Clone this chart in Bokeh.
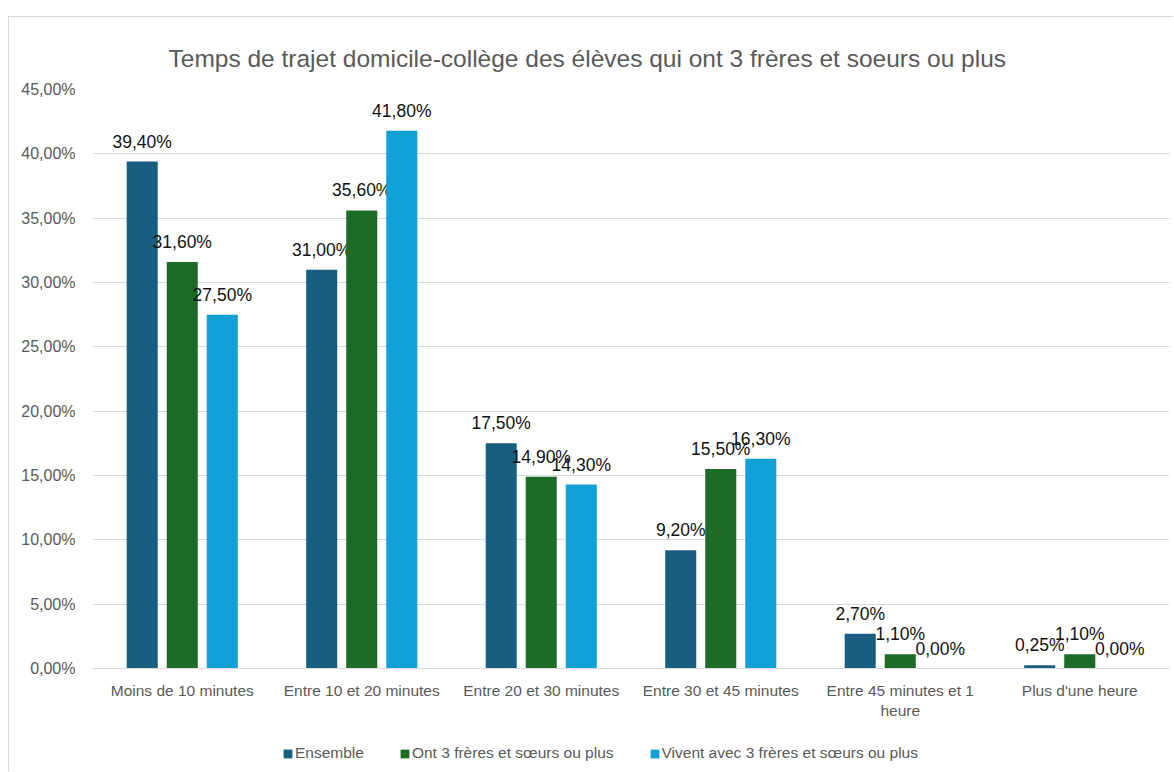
from bokeh.plotting import figure
from bokeh.layouts import column
from bokeh.models import (ColumnDataSource, FactorRange, Range1d, FixedTicker, Legend,
                          LegendItem, CustomJSTickFormatter)
from bokeh.transform import dodge
from bokeh.core.properties import value
from bokeh.embed import file_html
from bokeh.resources import INLINE

# ---- data ----
categories = ["Moins de 10 minutes", "Entre 10 et 20 minutes", "Entre 20 et 30 minutes",
              "Entre 30 et 45 minutes", "Entre 45 minutes et 1\nheure", "Plus d'une heure"]
ensemble = [39.4, 31.0, 17.5, 9.2, 2.7, 0.25]
ont3 = [31.6, 35.6, 14.9, 15.5, 1.1, 1.1]
vivent3 = [27.5, 41.8, 14.3, 16.3, 0.0, 0.0]
series_names = ["Ensemble", "Ont 3 frères et sœurs ou plus",
                "Vivent avec 3 frères et sœurs ou plus"]
y_ticks = [0, 5, 10, 15, 20, 25, 30, 35, 40, 45]
title_text = "Temps de trajet domicile-collège des élèves qui ont 3 frères et soeurs ou plus"

colors = ["#185E80", "#1C6B27", "#139FD7"]
FONT = "Liberation Sans"


def fmt(v):
    return f"{v:.2f}".replace(".", ",") + "%"


src = ColumnDataSource(dict(
    cat=categories,
    s0=ensemble, s1=ont3, s2=vivent3,
    l0=[fmt(v) for v in ensemble], l1=[fmt(v) for v in ont3], l2=[fmt(v) for v in vivent3],
))

W = 1164
p = figure(x_range=FactorRange(factors=categories, range_padding=0),
           y_range=Range1d(0, 45),
           width=W, height=712, output_backend="svg", toolbar_location=None,
           min_border_left=83, min_border_right=4, min_border_top=72, min_border_bottom=61,
           outline_line_color=None)

offsets = [-0.223, 0.0, 0.223]
for i, off in enumerate(offsets):
    p.vbar(x=dodge("cat", off, range=p.x_range), top=f"s{i}", width=0.173,
           source=src, fill_color=colors[i], line_color=None)
    p.text(x=dodge("cat", off, range=p.x_range), y=f"s{i}", text=f"l{i}", source=src,
           text_align="center", text_baseline="alphabetic", y_offset=-20,
           text_font=value(FONT), text_font_size="17.5px", text_color="#111111")

# axes
p.yaxis.ticker = FixedTicker(ticks=y_ticks)
p.yaxis.formatter = CustomJSTickFormatter(code="return tick.toFixed(2).replace('.', ',') + '%';")
p.yaxis.axis_line_color = None
p.yaxis.major_tick_line_color = None
p.yaxis.minor_tick_line_color = None
p.yaxis.major_label_standoff = 11
p.yaxis.major_label_text_font = FONT
p.yaxis.major_label_text_font_size = "16px"
p.yaxis.major_label_text_color = "#595959"

p.xaxis.axis_line_color = "#d9d9d9"
p.xaxis.major_tick_line_color = None
p.xaxis.minor_tick_line_color = None
p.xaxis.major_label_standoff = 7
p.xaxis.major_label_text_font = FONT
p.xaxis.major_label_text_font_size = "15.5px"
p.xaxis.major_label_text_color = "#595959"

p.xgrid.grid_line_color = None
p.ygrid.grid_line_color = "#d9d9d9"

# title
p.title.text = title_text
p.title.align = "left"
p.title.offset = 76
p.title.standoff = 35
p.title.text_font = FONT
p.title.text_font_size = "24.5px"
p.title.text_font_style = "normal"
p.title.text_color = "#595959"

# legend strip (separate small figure under the chart)
lg = figure(width=W, height=42, output_backend="svg", toolbar_location=None,
            x_range=Range1d(0, 1), y_range=Range1d(0, 1),
            x_axis_type=None, y_axis_type=None, outline_line_color=None,
            min_border_left=0, min_border_right=0, min_border_top=0, min_border_bottom=0)
dummies = [lg.vbar(x=[-10], top=[-10], width=0.1, fill_color=colors[i], line_color=None)
           for i in range(3)]
legend = Legend(items=[LegendItem(label=series_names[i], renderers=[dummies[i]]) for i in range(3)],
                orientation="horizontal", location=(190, 9),
                glyph_width=11, glyph_height=11, label_standoff=2, spacing=35,
                padding=0, margin=0, border_line_color=None, background_fill_alpha=0,
                label_text_font=FONT, label_text_font_size="15.5px",
                label_text_color="#595959", label_height=18)
lg.add_layout(legend)

layout = column(p, lg, spacing=0,
                styles={"margin-top": "16px", "margin-left": "8px",
                        "border-top": "1px solid #d9d9d9",
                        "border-left": "1px solid #d9d9d9"})

open("out.html", "w").write(file_html(layout, INLINE))
